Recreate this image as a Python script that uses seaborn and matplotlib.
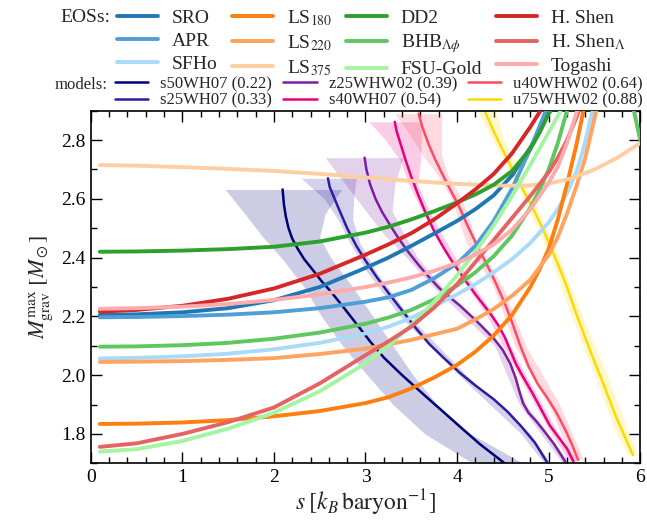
import numpy as np
import pandas as pd
import matplotlib
matplotlib.use("Agg")
import matplotlib.pyplot as plt
from matplotlib.lines import Line2D
from matplotlib.ticker import MultipleLocator
import seaborn as sns

# ---------------- EOS curves: maximum gravitational mass vs entropy ----------------
SRO_s = [0.1, 0.5, 1.0, 1.5, 2.0, 2.5, 3.0, 3.25, 3.5, 3.75, 4.0, 4.2, 4.4, 4.6, 4.8, 4.9, 5.0, 5.02]
SRO_m = [2.205, 2.207, 2.214, 2.228, 2.255, 2.300, 2.365, 2.40, 2.44, 2.482, 2.525, 2.565, 2.612, 2.68, 2.775, 2.83, 2.893, 2.9]

APR_s = [0.1, 0.5, 1.0, 1.5, 2.0, 2.5, 3.0, 3.25, 3.5, 3.75, 4.0, 4.2, 4.4, 4.6, 4.8, 4.97]
APR_m = [2.197, 2.198, 2.201, 2.206, 2.214, 2.228, 2.25, 2.265, 2.29, 2.33, 2.38, 2.44, 2.525, 2.635, 2.77, 2.9]

SFHo_s = [0.1, 0.5, 1.0, 1.5, 2.0, 2.5, 3.0, 3.25, 3.5, 3.75, 4.0, 4.2, 4.4, 4.6, 4.8, 5.0, 5.1, 5.2, 5.3, 5.38, 5.44, 5.48]
SFHo_m = [2.057, 2.059, 2.064, 2.073, 2.088, 2.11, 2.142, 2.165, 2.195, 2.235, 2.275, 2.31, 2.35, 2.395, 2.45, 2.52, 2.565, 2.62, 2.69, 2.77, 2.85, 2.9]

LS180_s = [0.1, 0.5, 1.0, 1.5, 2.0, 2.5, 3.0, 3.25, 3.5, 3.75, 4.0, 4.2, 4.4, 4.6, 4.8, 4.9, 5.0, 5.1, 5.2, 5.3, 5.38]
LS180_m = [1.834, 1.835, 1.839, 1.847, 1.86, 1.878, 1.905, 1.925, 1.955, 1.992, 2.035, 2.08, 2.135, 2.205, 2.30, 2.36, 2.43, 2.53, 2.65, 2.78, 2.9]

LS220_s = [0.1, 0.5, 1.0, 1.5, 2.0, 2.5, 3.0, 3.5, 4.0, 4.2, 4.4, 4.6, 4.8, 5.0, 5.1, 5.2, 5.3, 5.4, 5.46, 5.52]
LS220_m = [2.045, 2.046, 2.048, 2.052, 2.058, 2.072, 2.09, 2.12, 2.158, 2.19, 2.225, 2.27, 2.325, 2.41, 2.47, 2.55, 2.64, 2.74, 2.82, 2.9]

LS375_s = [0.1, 0.5, 1.0, 1.5, 2.0, 2.5, 3.0, 3.5, 4.0, 4.5, 4.75, 5.0, 5.25, 5.5, 5.75, 6.0]
LS375_m = [2.715, 2.713, 2.708, 2.702, 2.695, 2.685, 2.673, 2.661, 2.651, 2.645, 2.645, 2.652, 2.67, 2.70, 2.74, 2.79]

DD2_s = [0.1, 0.5, 1.0, 1.5, 2.0, 2.5, 3.0, 3.25, 3.5, 3.75, 4.0, 4.2, 4.4, 4.6, 4.8, 4.9, 5.0, 5.02]
DD2_m = [2.42, 2.421, 2.424, 2.429, 2.437, 2.455, 2.485, 2.505, 2.53, 2.558, 2.588, 2.615, 2.648, 2.695, 2.77, 2.825, 2.89, 2.9]

BHB_s = [0.1, 0.5, 1.0, 1.5, 2.0, 2.5, 3.0, 3.25, 3.5, 3.75, 4.0, 4.2, 4.4, 4.6, 4.8, 4.9, 5.0, 5.1, 5.2]
BHB_m = [2.097, 2.098, 2.102, 2.11, 2.124, 2.145, 2.175, 2.196, 2.222, 2.258, 2.305, 2.35, 2.405, 2.475, 2.57, 2.63, 2.70, 2.79, 2.9]
BHB_branch_s = [5.93, 6.0]
BHB_branch_m = [2.9, 2.8]

FSU_s = [0.1, 0.5, 1.0, 1.5, 2.0, 2.5, 3.0, 3.25, 3.5, 3.75, 4.0, 4.2, 4.4, 4.6, 4.8, 5.0, 5.13]
FSU_m = [1.74, 1.748, 1.776, 1.818, 1.872, 1.945, 2.04, 2.10, 2.17, 2.25, 2.34, 2.42, 2.51, 2.61, 2.716, 2.826, 2.9]

HShen_s = [0.1, 0.5, 1.0, 1.5, 2.0, 2.5, 3.0, 3.25, 3.5, 3.75, 4.0, 4.2, 4.4, 4.6, 4.8, 4.91]
HShen_m = [2.216, 2.222, 2.236, 2.26, 2.295, 2.345, 2.41, 2.445, 2.483, 2.53, 2.585, 2.632, 2.685, 2.755, 2.845, 2.9]

HShenL_s = [0.1, 0.5, 1.0, 1.5, 2.0, 2.5, 3.0, 3.25, 3.5, 3.75, 4.0, 4.2, 4.4, 4.6, 4.8, 5.0, 5.1, 5.2, 5.3, 5.33]
HShenL_m = [1.756, 1.768, 1.80, 1.84, 1.89, 1.972, 2.068, 2.115, 2.165, 2.23, 2.31, 2.385, 2.46, 2.535, 2.61, 2.69, 2.74, 2.80, 2.875, 2.9]

Togashi_s = [0.1, 0.5, 1.0, 1.5, 2.0, 2.5, 3.0, 3.25, 3.5, 3.75, 4.0, 4.2, 4.4, 4.6, 4.8, 5.0, 5.1, 5.2, 5.31]
Togashi_m = [2.226, 2.228, 2.233, 2.242, 2.256, 2.275, 2.30, 2.315, 2.333, 2.355, 2.382, 2.41, 2.445, 2.495, 2.565, 2.655, 2.71, 2.79, 2.9]

eos_labels = ["SRO", "APR", "SFHo",
              r"LS$_{180}$", r"LS$_{220}$", r"LS$_{375}$",
              "DD2", r"BHB$_{\Lambda\phi}$", "FSU-Gold",
              "H. Shen", r"H. Shen$_{\Lambda}$", "Togashi"]
eos_colors = ["#1f77b4", "#4f9fd6", "#a9dbf9",
              "#ff7f0e", "#ffa35e", "#ffcfa3",
              "#2ca02c", "#5fc75f", "#a4f4a0",
              "#d62728", "#e66363", "#ffabab"]
eos_s = [SRO_s, APR_s, SFHo_s, LS180_s, LS220_s, LS375_s,
         DD2_s, BHB_s, FSU_s, HShen_s, HShenL_s, Togashi_s]
eos_m = [SRO_m, APR_m, SFHo_m, LS180_m, LS220_m, LS375_m,
         DD2_m, BHB_m, FSU_m, HShen_m, HShenL_m, Togashi_m]

# ---------------- progenitor models: collapse tracks with uncertainty bands ----------------
s50_s = [2.095, 2.11, 2.13, 2.16, 2.20, 2.26, 2.33, 2.42, 2.52, 2.62, 2.75, 2.90, 3.05, 3.20, 3.40, 3.65, 3.85, 4.03, 4.25, 4.52]
s50_m = [2.632, 2.58, 2.54, 2.50, 2.465, 2.43, 2.395, 2.36, 2.32, 2.285, 2.235, 2.175, 2.115, 2.06, 2.0, 1.93, 1.875, 1.825, 1.765, 1.70]
s50_band_m = [2.632, 2.55, 2.47, 2.40, 2.30, 2.20, 2.10, 2.00, 1.90, 1.80, 1.70]
s50_band_lo = [1.47, 1.68, 1.88, 2.08, 2.33, 2.52, 2.75, 3.02, 3.30, 3.65, 4.17]
s50_band_hi = [2.74, 2.56, 2.50, 2.62, 2.86, 3.08, 3.30, 3.52, 3.78, 4.15, 4.72]

s25_s = [2.59, 2.61, 2.65, 2.71, 2.80, 2.90, 3.0, 3.12, 3.25, 3.4, 3.55, 3.7, 3.85, 4.03, 4.2, 4.4, 4.55, 4.7, 4.85, 4.98]
s25_m = [2.67, 2.64, 2.61, 2.565, 2.50, 2.44, 2.39, 2.335, 2.28, 2.22, 2.16, 2.105, 2.06, 2.008, 1.965, 1.918, 1.876, 1.826, 1.77, 1.705]
s25_band_m = [2.67, 2.60, 2.53, 2.45, 2.35, 2.20, 2.00, 1.80, 1.705]
s25_band_lo = [2.30, 2.55, 2.70, 2.83, 3.02, 3.38, 4.02, 4.70, 4.94]
s25_band_hi = [2.90, 2.87, 2.86, 2.94, 3.12, 3.48, 4.10, 4.80, 5.01]

z25_s = [2.99, 3.01, 3.05, 3.11, 3.18, 3.27, 3.36, 3.47, 3.58, 3.69, 3.80, 3.92, 4.03, 4.21, 4.40, 4.50, 4.58, 4.64, 4.68, 4.72, 4.78, 4.86, 4.95, 5.06, 5.18]
z25_m = [2.74, 2.70, 2.65, 2.60, 2.556, 2.51, 2.466, 2.418, 2.375, 2.335, 2.298, 2.265, 2.237, 2.185, 2.125, 2.085, 2.04, 1.99, 1.945, 1.905, 1.872, 1.845, 1.81, 1.765, 1.706]
z25_band_m = [2.74, 2.65, 2.56, 2.48, 2.40, 2.30, 2.10, 1.90, 1.706]
z25_band_lo = [2.56, 2.78, 3.00, 3.20, 3.45, 3.74, 4.41, 4.68, 5.14]
z25_band_hi = [3.41, 3.32, 3.29, 3.42, 3.57, 3.84, 4.49, 4.75, 5.22]

s40_s = [3.32, 3.34, 3.38, 3.44, 3.50, 3.58, 3.66, 3.75, 3.85, 3.95, 4.05, 4.20, 4.35, 4.45, 4.52, 4.58, 4.64, 4.70, 4.83, 5.01, 5.20, 5.27]
s40_m = [2.862, 2.83, 2.79, 2.73, 2.675, 2.61, 2.55, 2.49, 2.435, 2.385, 2.34, 2.275, 2.215, 2.17, 2.13, 2.085, 2.04, 2.005, 1.935, 1.83, 1.75, 1.706]
s40_band_m = [2.862, 2.80, 2.73, 2.65, 2.55, 2.40, 2.20, 2.00, 1.80, 1.706]
s40_band_lo = [3.04, 3.22, 3.38, 3.47, 3.63, 3.90, 4.33, 4.67, 5.03, 5.23]
s40_band_hi = [3.61, 3.61, 3.60, 3.57, 3.71, 3.98, 4.41, 4.75, 5.11, 5.31]

u40_s = [3.58, 3.62, 3.69, 3.76, 3.83, 3.92, 4.02, 4.12, 4.22, 4.32, 4.42, 4.52, 4.60, 4.69, 4.78, 4.88, 4.98, 5.08, 5.18, 5.26, 5.32]
u40_m = [2.89, 2.845, 2.785, 2.735, 2.69, 2.635, 2.575, 2.505, 2.44, 2.38, 2.315, 2.245, 2.18, 2.10, 2.03, 1.97, 1.925, 1.875, 1.815, 1.76, 1.712]
u40_band_m = [2.89, 2.82, 2.75, 2.68, 2.60, 2.45, 2.30, 2.10, 1.90, 1.712]
u40_band_lo = [3.32, 3.48, 3.62, 3.79, 3.94, 4.10, 4.40, 4.63, 5.00, 5.26]
u40_band_hi = [3.83, 3.83, 3.83, 3.90, 4.05, 4.22, 4.50, 4.75, 5.12, 5.38]

u75_s = [4.30, 4.40, 4.50, 4.60, 4.70, 4.80, 4.90, 5.00, 5.10, 5.20, 5.30, 5.45, 5.60, 5.74, 5.92]
u75_m = [2.90, 2.83, 2.765, 2.703, 2.643, 2.585, 2.522, 2.453, 2.378, 2.30, 2.21, 2.085, 1.968, 1.855, 1.728]
u75_band_m = [2.90, 2.80, 2.60, 2.40, 2.20, 2.00, 1.80, 1.728]
u75_band_lo = [4.22, 4.39, 4.73, 5.02, 5.25, 5.50, 5.74, 5.87]
u75_band_hi = [4.42, 4.51, 4.83, 5.12, 5.37, 5.64, 5.88, 5.97]

model_labels = ["s50WH07 (0.22)", "s25WH07 (0.33)", "z25WHW02 (0.39)",
                "s40WH07 (0.54)", "u40WHW02 (0.64)", "u75WHW02 (0.88)"]
model_colors = ["#00007a", "#2c1ca2", "#7b1fa0", "#e6007e", "#ff4a66", "#ffd900"]
model_s = [s50_s, s25_s, z25_s, s40_s, u40_s, u75_s]
model_m = [s50_m, s25_m, z25_m, s40_m, u40_m, u75_m]
band_m = [s50_band_m, s25_band_m, z25_band_m, s40_band_m, u40_band_m, u75_band_m]
band_lo = [s50_band_lo, s25_band_lo, z25_band_lo, s40_band_lo, u40_band_lo, u75_band_lo]
band_hi = [s50_band_hi, s25_band_hi, z25_band_hi, s40_band_hi, u40_band_hi, u75_band_hi]

x_ticks = [0, 1, 2, 3, 4, 5, 6]
y_ticks = [1.8, 2.0, 2.2, 2.4, 2.6, 2.8]

# ---------------- style ----------------
sns.set_theme(style="ticks")
plt.rcParams["font.family"] = ["Liberation Serif", "DejaVu Serif"]
plt.rcParams["mathtext.fontset"] = "stix"
plt.rcParams["axes.linewidth"] = 1.2
plt.rcParams["lines.solid_joinstyle"] = "round"

fig = plt.figure(figsize=(6.47, 5.21), dpi=100)
ax = fig.add_axes([0.1402, 0.1107, 0.8494, 0.6768])

# uncertainty bands
for bm, lo, hi, c in zip(band_m, band_lo, band_hi, model_colors):
    ax.fill_betweenx(bm, lo, hi, color=c, alpha=0.2, linewidth=0, zorder=1)

# model tracks
for s, m, c in zip(model_s, model_m, model_colors):
    df = pd.DataFrame({"s": s, "M": m})
    sns.lineplot(data=df, x="s", y="M", ax=ax, color=c, linewidth=1.8,
                 sort=False, estimator=None, legend=False, zorder=2)

# EOS curves
for s, m, c in zip(eos_s, eos_m, eos_colors):
    df = pd.DataFrame({"s": s, "M": m})
    sns.lineplot(data=df, x="s", y="M", ax=ax, color=c, linewidth=2.8,
                 sort=False, estimator=None, legend=False, zorder=3)
sns.lineplot(x=BHB_branch_s, y=BHB_branch_m, ax=ax, color=eos_colors[7],
             linewidth=2.8, sort=False, estimator=None, legend=False, zorder=3)

ax.set_xlim(0, 6)
ax.set_ylim(1.7, 2.9)
ax.set_xticks(x_ticks)
ax.set_yticks(y_ticks)
ax.set_xticklabels([str(v) for v in x_ticks])
ax.set_yticklabels([f"{v:.1f}" for v in y_ticks])
ax.xaxis.set_minor_locator(MultipleLocator(0.2))
ax.yaxis.set_minor_locator(MultipleLocator(0.1))
ax.tick_params(which="both", direction="in", top=True, right=True, width=1.0,
               labelsize=14, colors="black")
ax.tick_params(which="major", length=8, pad=4)
ax.tick_params(which="minor", length=4)
for sp in ax.spines.values():
    sp.set_color("black")

ax.set_xlabel(r"$s\;[k_B\,\mathrm{baryon}^{-1}]$", fontsize=17, labelpad=1)
ax.set_ylabel(r"$M_{\mathrm{grav}}^{\mathrm{max}}\;[M_\odot]$", fontsize=16, labelpad=4)

# legends above the axes
eos_handles = [Line2D([], [], color=c, lw=2.8) for c in eos_colors]
fig.legend(eos_handles, eos_labels, ncol=4, loc="upper left",
           bbox_to_anchor=(0.181, 1.0 - 8 / 521), frameon=False,
           fontsize=14, handlelength=2.1, handletextpad=0.72,
           columnspacing=0.72, labelspacing=0.28, borderpad=0,
           borderaxespad=0)
model_handles = [Line2D([], [], color=c, lw=1.8) for c in model_colors]
fig.legend(model_handles, model_labels, ncol=3, loc="upper left",
           bbox_to_anchor=(0.1777, 1.0 - 76 / 521), frameon=False,
           fontsize=12, handlelength=2.0, handletextpad=0.72,
           columnspacing=0.66, labelspacing=0.05, borderpad=0,
           borderaxespad=0)
fig.text(110 / 647, 1 - 17 / 521, "EOSs:", ha="right", va="center", fontsize=14)
fig.text(108 / 647, 1 - 85 / 521, "models:", ha="right", va="center", fontsize=12)

fig.savefig("out.png", dpi=100)
